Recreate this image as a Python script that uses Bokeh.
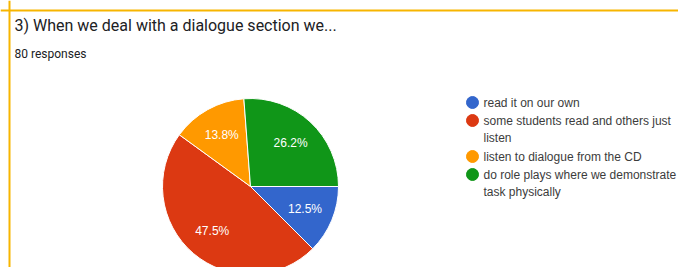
import math
from bokeh.plotting import figure
from bokeh.models import Range1d, Span, ColumnDataSource
from bokeh.core.properties import value
from bokeh.embed import file_html
from bokeh.resources import INLINE

title = "3) When we deal with a dialogue section we..."
subtitle = "80 responses"
categories = ["read it on our own",
              "some students read and others just listen",
              "listen to dialogue from the CD",
              "do role plays where we demonstrate the task physically"]
legend_lines = [["read it on our own"],
                ["some students read and others just", "listen"],
                ["listen to dialogue from the CD"],
                ["do role plays where we demonstrate the", "task physically"]]
percents = [12.5, 47.5, 13.8, 26.2]
colors = ["#3366cc", "#dc3912", "#ff9900", "#109618"]

W, H = 678, 267
def X(px): return px
def Y(py): return H - py

p = figure(width=W, height=H, x_range=Range1d(0, W), y_range=Range1d(0, H),
           output_backend="svg", toolbar_location=None, min_border=0,
           x_axis_location=None, y_axis_location=None)
p.grid.visible = False
p.outline_line_color = None
p.background_fill_color = "white"

# yellow card border (top and left)
p.add_layout(Span(location=Y(10), dimension="width", line_color="#f7b500", line_width=2))
p.add_layout(Span(location=X(9), dimension="height", line_color="#f7b500", line_width=2))

# titles
p.text(x=[X(14)], y=[Y(25)], text=[title], text_font=value("Roboto"),
       text_font_size="16px", text_color="#202124", text_baseline="middle")
p.text(x=[X(14)], y=[Y(53)], text=[subtitle], text_font=value("Roboto"),
       text_font_size="12px", text_color="#202124", text_baseline="middle")

# pie
cx, cy, r = X(250), Y(186), 88
total = sum(percents)
starts, ends, lx, ly, labels = [], [], [], [], []
cum = 0.0
for v in percents:
    a0 = cum / total * 2 * math.pi
    cum += v
    a1 = cum / total * 2 * math.pi
    starts.append(-a1)
    ends.append(-a0)
    mid = -(a0 + a1) / 2
    lx.append(cx + 0.67 * r * math.cos(mid))
    ly.append(cy + 0.67 * r * math.sin(mid))
    labels.append(f"{v}%")

src = ColumnDataSource(dict(start=starts, end=ends, color=colors))
p.wedge(x=cx, y=cy, radius=r, radius_units="screen", start_angle="start",
        end_angle="end", fill_color="color", line_color="white", line_width=1,
        source=src)
p.text(x=lx, y=ly, text=labels, text_font=value("Liberation Sans"),
       text_font_size="12px", text_color="white", text_align="center",
       text_baseline="middle")

# legend
row_y = [102, 120, 156, 174]
for i, lines in enumerate(legend_lines):
    p.scatter(x=[X(472)], y=[Y(row_y[i])], size=12, marker="circle",
              fill_color=colors[i], line_color=colors[i])
    for j, t in enumerate(lines):
        p.text(x=[X(483)], y=[Y(row_y[i] + 17.5 * j)], text=[t],
               text_font=value("Liberation Sans"), text_font_size="12px",
               text_color="#3c3c3c", text_baseline="middle")

open("out.html", "w").write(file_html(p, INLINE))
